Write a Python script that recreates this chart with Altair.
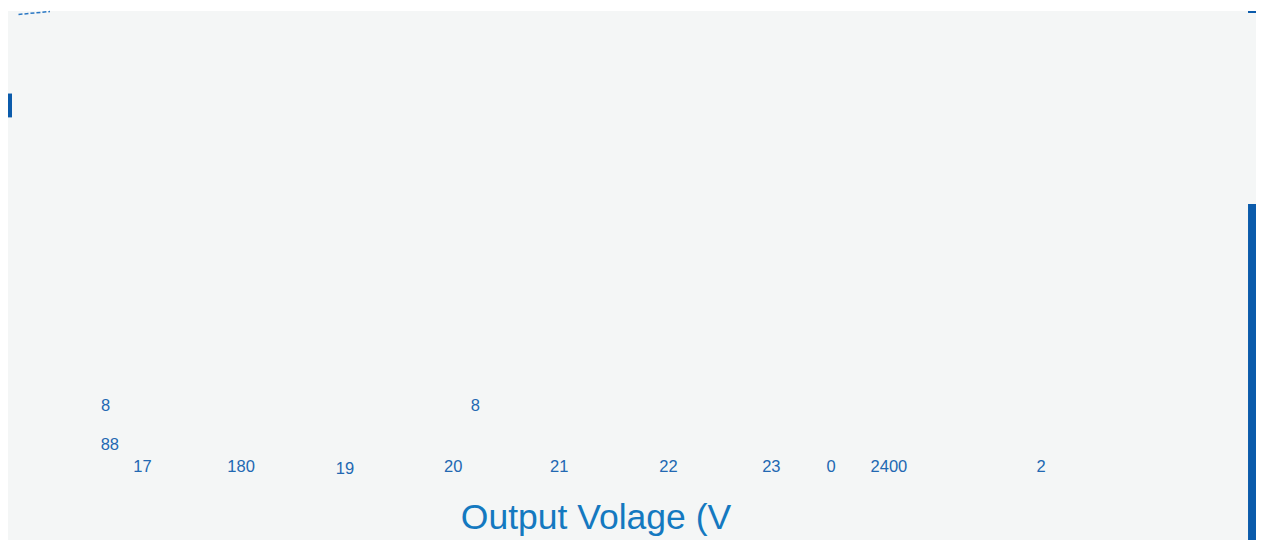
import altair as alt
import pandas as pd

# Bottom row of tick-like labels (output voltage, V)
bottom_labels = ["17", "180", "19", "20", "21", "22", "23", "0", "2400", "2"]
bottom_volts = [16.98, 17.92, 18.91, 19.94, 20.95, 21.99, 22.97, 23.54, 24.09, 25.54]
bottom_level = [7.3, 7.3, 7.1, 7.3, 7.3, 7.3, 7.3, 7.3, 7.3, 7.3]

# Upper fragments
upper_labels = ["8", "8", "88"]
upper_volts = [16.63, 20.15, 16.67]
upper_level = [13.5, 13.5, 9.6]

# Axis title fragment
title_text = ["Output Volage (V"]
title_volt = [21.3]
title_level = [2.2]

# Blue edge bands (voltage span, level span)
band_v1 = [27.51, 15.70, 27.51]
band_v2 = [27.586, 15.738, 27.586]
band_l1 = [0.0, 42.5, 53.0]
band_l2 = [33.8, 44.9, 53.2]

# dashed fragment top-left
dash_v = [15.80, 16.10]
dash_l = [52.85, 53.15]

X_DOMAIN = [15.7, 27.586]
Y_DOMAIN = [0, 53.2]

xs = alt.Scale(domain=X_DOMAIN, nice=False, zero=False)
ys = alt.Scale(domain=Y_DOMAIN, nice=False, zero=False)

labels_df = pd.DataFrame({
    "label": bottom_labels + upper_labels,
    "volt": bottom_volts + upper_volts,
    "level": bottom_level + upper_level,
})
title_df = pd.DataFrame({"label": title_text, "volt": title_volt, "level": title_level})
band_df = pd.DataFrame({"v1": band_v1, "v2": band_v2, "l1": band_l1, "l2": band_l2})
dash_df = pd.DataFrame({"volt": dash_v, "level": dash_l})

labels = alt.Chart(labels_df).mark_text(
    font="Liberation Sans", fontSize=16.5, color="#2268b2", align="center", baseline="middle"
).encode(
    x=alt.X("volt:Q", scale=xs, axis=None),
    y=alt.Y("level:Q", scale=ys, axis=None),
    text="label:N",
)

title = alt.Chart(title_df).mark_text(
    font="Liberation Sans", fontSize=35.5, color="#1479c0", align="center", baseline="middle"
).encode(
    x=alt.X("volt:Q", scale=xs, axis=None),
    y=alt.Y("level:Q", scale=ys, axis=None),
    text="label:N",
)

bands = alt.Chart(band_df).mark_rect(color="#0b5bab").encode(
    x=alt.X("v1:Q", scale=xs, axis=None),
    x2="v2:Q",
    y=alt.Y("l1:Q", scale=ys, axis=None),
    y2="l2:Q",
)

dash = alt.Chart(dash_df).mark_line(color="#2a78c4", strokeDash=[4, 2], strokeWidth=1.5).encode(
    x=alt.X("volt:Q", scale=xs, axis=None),
    y=alt.Y("level:Q", scale=ys, axis=None),
)

chart = alt.layer(bands, dash, labels, title).properties(
    width=1248,
    height=532,
    autosize=alt.AutoSizeParams(type="fit", contains="padding"),
    padding=0,
    background="#ffffff",
).configure_view(fill="#f4f6f6", stroke=None)

chart.save("out.html", embed_options={"renderer": "svg", "actions": False})
